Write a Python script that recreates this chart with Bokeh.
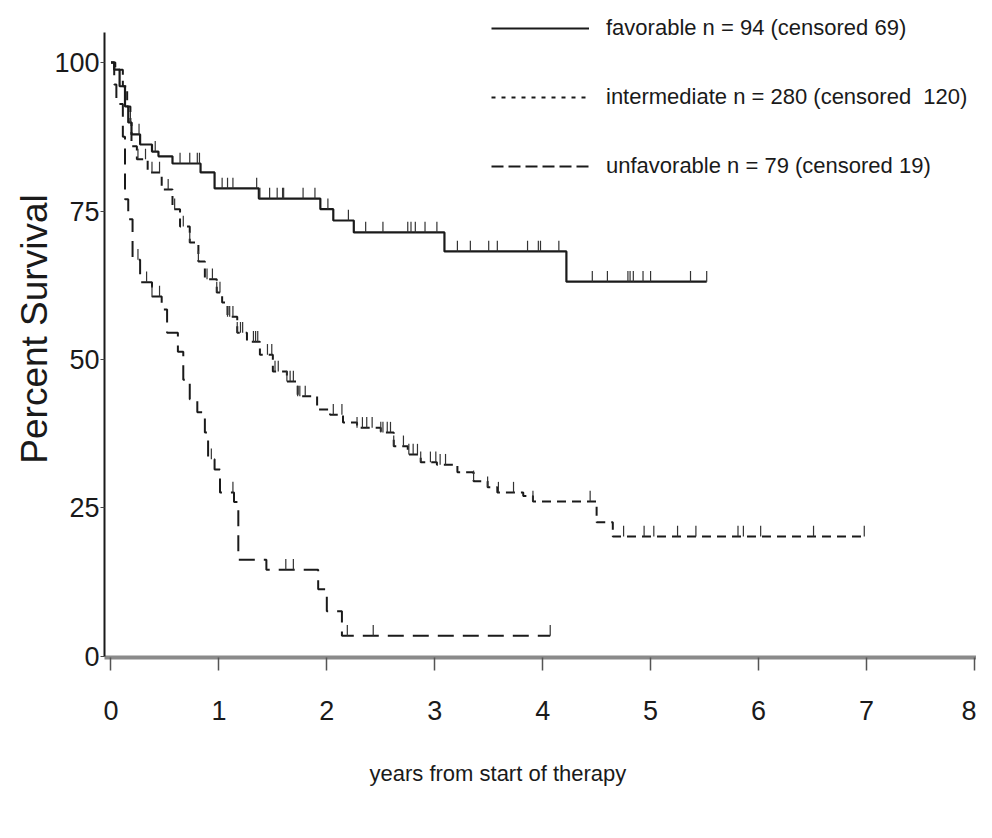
import numpy as np
from bokeh.plotting import figure
from bokeh.models import Range1d, Legend, LegendItem, FixedTicker, Title
from bokeh.embed import file_html
from bokeh.resources import INLINE

# ---------------- data ----------------
x_ticks = [0, 1, 2, 3, 4, 5, 6, 7, 8]
y_ticks = [0, 25, 50, 75, 100]

labels = ["favorable n = 94 (censored 69)",
          "intermediate n = 280 (censored  120)",
          "unfavorable n = 79 (censored 19)"]

fav_t = [0, 0.03, 0.08, 0.13, 0.16, 0.19, 0.27, 0.38, 0.44, 0.57, 0.83, 0.96,
         1.37, 1.94, 2.06, 2.25, 3.09, 4.22, 5.52]
fav_s = [100, 98.8, 96.0, 92.6, 89.9, 87.9, 86.2, 85.0, 84.2, 83.0, 81.5, 78.8,
         77.1, 75.3, 73.4, 71.4, 68.2, 63.1, 63.1]
fav_c = [0.26, 0.41, 0.64, 0.73, 0.80, 0.82, 1.03, 1.08, 1.13, 1.35, 1.38, 1.47,
         1.54, 1.59, 1.60, 1.78, 1.89, 2.01, 2.20, 2.36, 2.52, 2.75, 2.78, 2.82,
         2.91, 3.02, 3.21, 3.33, 3.50, 3.58, 3.86, 3.96, 3.98, 4.15, 4.46, 4.60,
         4.79, 4.81, 4.84, 4.93, 5.00, 5.37, 5.52]

int_t = [0, 0.04, 0.11, 0.15, 0.18, 0.19, 0.24, 0.34, 0.47, 0.57, 0.64, 0.73,
         0.81, 0.87, 0.98, 1.03, 1.08, 1.17, 1.26, 1.38, 1.50, 1.63, 1.73, 1.91,
         2.03, 2.15, 2.28, 2.50, 2.62, 2.75, 2.87, 3.02, 3.21, 3.36, 3.49, 3.58,
         3.82, 3.91, 4.50, 4.65, 6.98]
int_s = [100, 98.8, 96.0, 92.6, 89.9, 85.9, 83.7, 81.5, 78.6, 75.3, 72.4, 69.7,
         66.5, 63.5, 61.3, 59.6, 57.2, 54.5, 53.0, 50.8, 48.0, 46.3, 43.8, 41.6,
         40.7, 39.4, 38.5, 37.7, 35.4, 34.0, 32.7, 32.3, 31.0, 29.5, 28.5, 27.6,
         27.0, 26.1, 22.6, 20.2, 20.2]
int_c = [0.18, 0.25, 0.32, 0.38, 0.45, 0.53, 0.59, 0.67, 0.73, 0.81, 0.89, 0.94,
         0.98, 1.01, 1.08, 1.10, 1.13, 1.17, 1.20, 1.22, 1.32, 1.34, 1.36, 1.45,
         1.49, 1.52, 1.55, 1.63, 1.66, 1.69, 1.73, 1.75, 1.80, 2.06, 2.14, 2.28,
         2.33, 2.37, 2.42, 2.50, 2.52, 2.56, 2.59, 2.62, 2.71, 2.76, 2.80, 2.84,
         2.87, 2.96, 3.01, 3.05, 3.10, 3.36, 3.49, 3.59, 3.73, 3.91, 4.44, 4.75,
         4.94, 5.03, 5.25, 5.42, 5.81, 5.86, 6.02, 6.51, 6.98]

unf_t = [0, 0.03, 0.05, 0.11, 0.13, 0.16, 0.20, 0.27, 0.38, 0.47, 0.52, 0.62,
         0.67, 0.73, 0.80, 0.87, 0.90, 0.96, 1.01, 1.14, 1.18, 1.44, 1.92, 2.00,
         2.14, 4.07]
unf_s = [100, 96.3, 93.0, 87.5, 77.0, 73.6, 66.8, 63.0, 60.6, 58.4, 54.5, 51.3,
         46.6, 43.3, 41.1, 37.7, 33.2, 31.5, 27.6, 26.0, 16.3, 14.6, 11.3, 7.6,
         3.5, 3.5]
unf_c = [0.25, 0.33, 0.38, 0.45, 0.93, 1.13, 1.62, 1.69, 2.19, 2.43, 4.07]

x_title = "years from start of therapy"
y_title = "Percent Survival"

# ---------------- styling ----------------
FONT = "Liberation Sans, Arial, Helvetica, sans-serif"
INK = "#1a1a1a"
TICK_H = 1.8  # height of censor ticks in percent units

p = figure(width=976, height=822, output_backend="svg", toolbar_location=None,
           x_range=Range1d(-0.06, 8.02), y_range=Range1d(-0.17, 110.44),
           min_border_left=104, min_border_right=0, min_border_top=0,
           min_border_bottom=165)
p.outline_line_color = None
p.grid.visible = False
p.background_fill_color = "white"

series = [
    (fav_t, fav_s, fav_c, "solid", 2.2),
    (int_t, int_s, int_c, "9 6", 2.0),
    (unf_t, unf_s, unf_c, "16 9", 2.0),
]
for t, s, c, dash, lw in series:
    t = np.asarray(t, float)
    s = np.asarray(s, float)
    c = np.asarray(c, float)
    p.step(x=t, y=s, mode="after", line_color=INK, line_width=lw, line_dash=dash)
    idx = np.clip(np.searchsorted(t, c, side="right") - 1, 0, len(s) - 1)
    yc = s[idx]
    p.segment(x0=c, y0=yc, x1=c, y1=yc + TICK_H, line_color="#333333", line_width=1.2)

# legend (sample renderers carry the legend line styles; NaN data -> nothing plotted)
leg_dash = ["solid", "4 6", "12 5"]
items = []
for lab, dash in zip(labels, leg_dash):
    r = p.line(x=[np.nan], y=[np.nan], line_color=INK, line_width=2, line_dash=dash)
    items.append(LegendItem(label=lab, renderers=[r]))
legend = Legend(items=items, location=(387, 476), orientation="vertical",
                glyph_width=98, glyph_height=30, label_height=30,
                label_standoff=17, spacing=39, padding=0, margin=0,
                border_line_alpha=0, background_fill_alpha=0,
                label_text_font=FONT, label_text_font_size="22px",
                label_text_color=INK)
p.add_layout(legend, "center")

# axes
xa = p.xaxis[0]
xa.ticker = FixedTicker(ticks=x_ticks)
xa.axis_line_color = "#8a8a8a"
xa.axis_line_width = 4
xa.major_tick_line_color = "#555555"
xa.major_tick_line_width = 1.5
xa.major_tick_out = 13
xa.major_tick_in = 0
xa.minor_tick_line_color = None
xa.major_label_text_font = FONT
xa.major_label_text_font_size = "27px"
xa.major_label_text_color = INK
xa.major_label_standoff = 30

# x title below the axis, offset to the left as in the original
p.add_layout(Title(text=x_title, align="left", offset=265, standoff=72,
                   text_font=FONT, text_font_size="22px", text_font_style="normal",
                   text_color=INK), "below")

ya = p.yaxis[0]
ya.ticker = FixedTicker(ticks=y_ticks)
ya.bounds = (0, 105)
ya.axis_line_color = INK
ya.axis_line_width = 2
ya.major_tick_line_color = "#444444"
ya.major_tick_out = 4
ya.major_tick_in = 0
ya.minor_tick_line_color = None
ya.major_label_text_font = FONT
ya.major_label_text_font_size = "27px"
ya.major_label_text_color = INK
ya.major_label_standoff = 1
ya.axis_label = y_title
ya.axis_label_text_font = FONT
ya.axis_label_text_font_size = "37px"
ya.axis_label_text_font_style = "normal"
ya.axis_label_text_color = INK
ya.axis_label_standoff = -4

open("out.html", "w").write(file_html(p, INLINE))
